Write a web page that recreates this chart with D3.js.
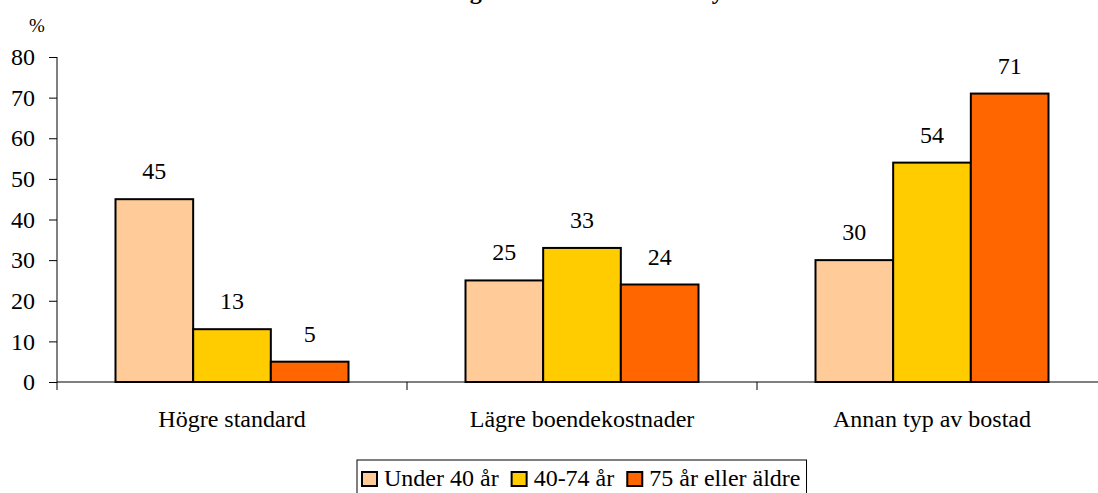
<!DOCTYPE html>
<html><head><meta charset="utf-8">
<script src="https://cdn.jsdelivr.net/npm/d3@7"></script>
<style>body{margin:0;background:#fff}svg{display:block}</style>
</head><body><svg id="c" width="1098" height="493"></svg>
<script>
const title = "Anledning till att hushållen vill byta bostad";
const categories = ["Högre standard", "Lägre boendekostnader", "Annan typ av bostad"];
const seriesNames = ["Under 40 år", "40-74 år", "75 år eller äldre"];
const under40 = [45, 25, 30];
const age40to74 = [13, 33, 54];
const age75plus = [5, 24, 71];
const yTicks = [0, 10, 20, 30, 40, 50, 60, 70, 80];
const colors = ["#FFCC99", "#FFCC00", "#FF6600"];
const seriesValues = [under40, age40to74, age75plus];
const FONT = "'Liberation Serif', 'Times New Roman', Times, serif";

const svg = d3.select("#c");
const x0 = d3.scaleBand().domain(categories).range([57, 1107]).paddingInner(0).paddingOuter(0);
const x1 = d3.scaleBand().domain(seriesNames).range([58.5, 350 - 58.5]);
const y = d3.scaleLinear().domain([0, 80]).range([382, 57]);

// title (mostly clipped at top, as in the reference)
svg.append("text").attr("x", 375).attr("y", -1)
  .attr("font-family", FONT).attr("font-weight", "bold").attr("font-size", 24).text(title);

// bars
categories.forEach((c, ci) => {
  seriesNames.forEach((s, si) => {
    const v = seriesValues[si][ci];
    const bx = x0(c) + x1(s);
    svg.append("rect").attr("x", bx).attr("y", y(v)).attr("width", x1.bandwidth()).attr("height", y(0) - y(v))
      .attr("fill", colors[si]).attr("stroke", "#000").attr("stroke-width", 2);
    svg.append("text").attr("x", bx + x1.bandwidth() / 2).attr("y", y(v) - 20).attr("text-anchor", "middle")
      .attr("font-family", FONT).attr("font-size", 24).text(v);
  });
});

// y axis
const yAxis = svg.append("g").attr("transform", "translate(57,0)")
  .call(d3.axisLeft(y).tickValues(yTicks).tickSize(8).tickPadding(14).tickFormat(d3.format("d")));
yAxis.attr("font-family", FONT).attr("font-size", 24);
yAxis.select(".domain").attr("stroke", "#000").attr("d", "M0,57V382");
yAxis.selectAll(".tick line").attr("stroke", "#000");
yAxis.selectAll(".tick text").attr("fill", "#000");

// x axis
const xAxis = svg.append("g").attr("transform", "translate(0,382)")
  .call(d3.axisBottom(x0).tickSize(0).tickPadding(28));
xAxis.attr("font-family", FONT).attr("font-size", 24);
xAxis.select(".domain").attr("stroke", "#000").attr("d", "M57,0H1098");
xAxis.selectAll(".tick text").attr("fill", "#000");
categories.forEach(c => {
  svg.append("line").attr("x1", x0(c)).attr("x2", x0(c)).attr("y1", 382).attr("y2", 390).attr("stroke", "#000");
});

// % label
svg.append("text").attr("x", 29).attr("y", 32).attr("font-family", FONT).attr("font-size", 19).text("%");

// legend
const lg = svg.append("g");
let lx = 362;
seriesNames.forEach((s, i) => {
  lg.append("rect").attr("x", lx).attr("y", 472).attr("width", 15).attr("height", 14)
    .attr("fill", colors[i]).attr("stroke", "#000").attr("stroke-width", 2);
  const t = lg.append("text").attr("x", lx + 22).attr("y", 486).attr("font-family", FONT).attr("font-size", 24).text(s);
  lx = lx + 22 + t.node().getComputedTextLength() + 13;
});
lg.insert("rect", ":first-child").attr("x", 357).attr("y", 460).attr("width", lx - 357 - 7).attr("height", 40)
  .attr("fill", "#fff").attr("stroke", "#000").attr("stroke-width", 1);
</script></body></html>
